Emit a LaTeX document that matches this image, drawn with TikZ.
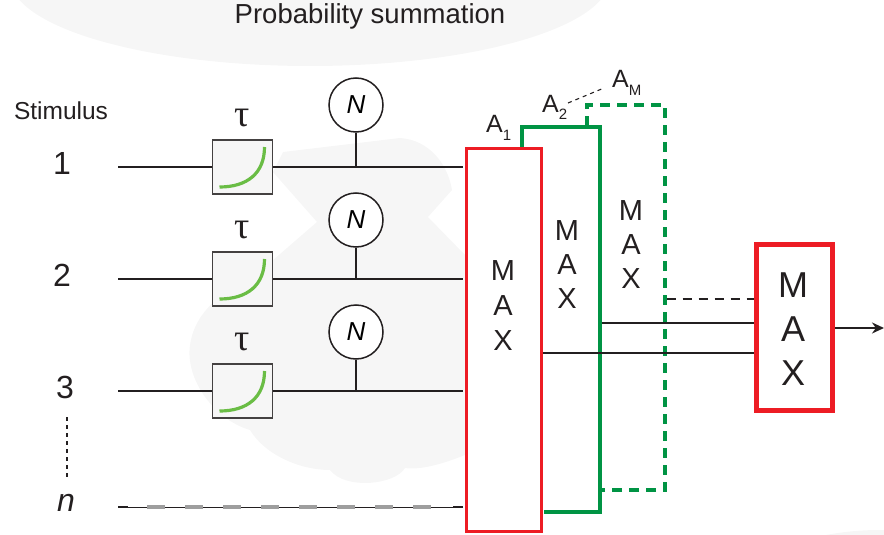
\documentclass[tikz,border=0pt]{standalone}
\usepackage{fontspec}
\setmainfont{Liberation Sans}
\newfontfamily\grserif{Liberation Serif}
\usetikzlibrary{arrows.meta,calc}
\definecolor{mred}{HTML}{ED1C24}
\definecolor{mgreen}{HTML}{009444}
\definecolor{cgreen}{HTML}{6ABD45}
\definecolor{bggray}{HTML}{F6F6F6}
\definecolor{ink}{HTML}{231F20}
\newcommand{\fsz}[1]{\fontsize{#1}{#1}\selectfont}
\newcommand{\lowsub}[1]{\raisebox{-0.32em}{\fsz{15}#1}}
\begin{document}
\begin{tikzpicture}[x=1pt,y=-1pt,
  wire/.style={line width=1.9pt, draw=ink},
  taubox/.style={draw=ink!85, line width=1.5pt, fill=bggray, minimum width=60pt, minimum height=54pt, inner sep=0pt},
  ncirc/.style={circle, draw=ink, line width=1.5pt, fill=white, minimum size=54pt, inner sep=0pt, font=\fsz{26}\itshape},
  curvegreen/.style={draw=cgreen, line width=3.2pt},
  digit/.style={font=\fsz{32}, text=ink, inner sep=0pt},
  taulbl/.style={font=\grserif\fsz{38}, text=ink, inner sep=0pt},
  maxtxt/.style={font=\fsz{29}, text=ink, align=center, inner sep=0pt},
  albl/.style={font=\fsz{25}, text=ink, inner sep=0pt, anchor=base west}]
\useasboundingbox (0,0) rectangle (884,535);
% faint background shapes
\fill[bggray] (310,-22) ellipse [x radius=300, y radius=88];
\fill[bggray] (880,605) ellipse [x radius=150, y radius=75];
\fill[bggray] (283,152) -- (400,138) .. controls (430,140) and (448,165) .. (452,190) -- (428,217) -- (465,255) -- (465,455)
  .. controls (440,465) and (420,470) .. (405,468) .. controls (395,485) and (345,490) .. (330,470)
  .. controls (300,470) and (265,455) .. (250,430) .. controls (215,420) and (185,380) .. (190,345)
  .. controls (195,310) and (225,290) .. (250,280) -- (317,222) -- (273,172) -- cycle;
% title and stimulus labels
\node[font=\fsz{27.5}, text=ink] (title) at (370,16) {Probability summation};
\node[font=\fsz{24.5}, text=ink] (stim) at (61,111) {Stimulus};
% input rows
\foreach \i/\y/\ny/\dx in {1/167/105/62, 2/279/220/62, 3/391/332/65} {
  \node[digit] (s\i) at (\dx,\y-4) {\i};
  \coordinate (w\i) at (118,\y);
  \coordinate (e\i) at (463,\y);
  \node[taubox] (t\i) at (242.5,\y) {};
  \node[taulbl] (tl\i) at (242,\y-49) {τ};
  \node[ncirc] (n\i) at (356,\ny) {N};
  \draw[wire] (w\i) -- (t\i.west);
  \draw[wire] (t\i.east) -- (e\i);
  \draw[wire] (n\i.south) -- (n\i.south |- e\i);
  \draw[curvegreen] ($(t\i.center)+(-23,20)$) .. controls +(28,0) and +(0,26) .. ($(t\i.center)+(22,-20)$);
}
% dotted ellipsis and row n
\coordinate (d1) at (67,417);
\coordinate (d2) at (67,479);
\draw[ink, line width=1.4pt, dash pattern=on 4pt off 4pt] (d1) -- (d2);
\node[digit, font=\fsz{32}\itshape] (sn) at (66,503) {n};
\coordinate (wn) at (118,507);
\coordinate (en) at (463,507);
\draw[ink, line width=1pt] (wn) -- (en);
\draw[ink, line width=2pt] (wn) -- ++(10,0);
\draw[ink, line width=2pt] (en) -- ++(-10,0);
\draw[black!38, line width=3.6pt, dash pattern=on 18pt off 20pt] (147,507) -- (434,507);
% MAX stages
\draw[mgreen, line width=3.2pt, dash pattern=on 10pt off 7pt] (587,126) -- (587,105) -- (665,105) -- (665,490) -- (601,490);
\draw[mgreen, line width=3.2pt] (522,148) -- (522,127) -- (600,127) -- (600,512) -- (544,512);
\node[draw=mred, line width=3.2pt, fill=white, minimum width=75pt, minimum height=383pt, inner sep=0pt] (max1) at (504,340) {};
\node[maxtxt] (m1) at (503,306) {M\\[6pt]A\\[6pt]X};
\node[maxtxt] (m2) at (567,265) {M\\[5pt]A\\[5pt]X};
\node[maxtxt] (m3) at (631,245) {M\\[5pt]A\\[5pt]X};
\node[albl] (a1) at (486,132) {A\lowsub{1}};
\node[albl] (a2) at (542,112) {A\lowsub{2}};
\node[albl] (am) at (612,88) {A\lowsub{M}};
\draw[ink, line width=1.1pt, dash pattern=on 4pt off 4pt] (568,103) -- (604,88);
% final MAX
\node[draw=mred, line width=5pt, fill=white, minimum width=76pt, minimum height=166pt, inner sep=0pt] (maxF) at (794.5,327.5) {};
\node[maxtxt, font=\fsz{36}] (mf) at (793,329) {M\\[8pt]A\\[8pt]X};
\coordinate (h1) at (0,353);
\coordinate (h2) at (0,323);
\coordinate (h3) at (0,299);
\draw[wire] (max1.east |- h1) -- (maxF.west |- h1);
\draw[wire] (601.5,323) -- (maxF.west |- h2);
\draw[ink, line width=1.7pt, dash pattern=on 9pt off 7pt] (666.5,299) -- (maxF.west |- h3);
\coordinate (out) at (884,328);
\draw[wire, -{Stealth[length=12pt, width=11pt]}] (maxF.east |- out) -- (out);
\end{tikzpicture}
\end{document}
